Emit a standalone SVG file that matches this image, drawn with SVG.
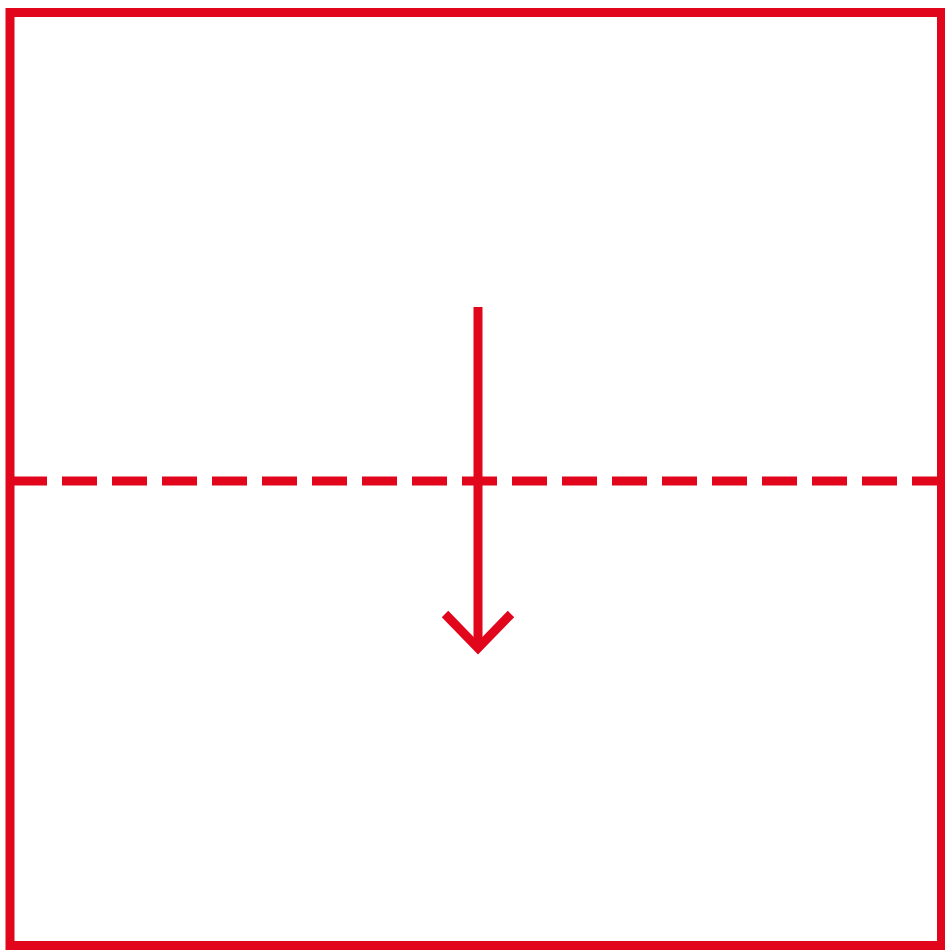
<svg xmlns="http://www.w3.org/2000/svg" width="945" height="950" viewBox="0 0 945 950">
<style>
.red{stroke:#e1061b;fill:none;stroke-width:9}
</style>
<rect width="945" height="950" fill="#ffffff"/>
<g id="frame"><rect class="red" x="10" y="12.5" width="931.5" height="933"/></g>
<g id="fold-line"><line class="red" x1="12" y1="481" x2="942" y2="481" stroke-dasharray="35 15"/></g>
<g id="connectors">
<line class="red" x1="478" y1="307" x2="478" y2="648"/>
<polyline class="red" points="445,614 478,648 511,614"/>
</g>
</svg>
